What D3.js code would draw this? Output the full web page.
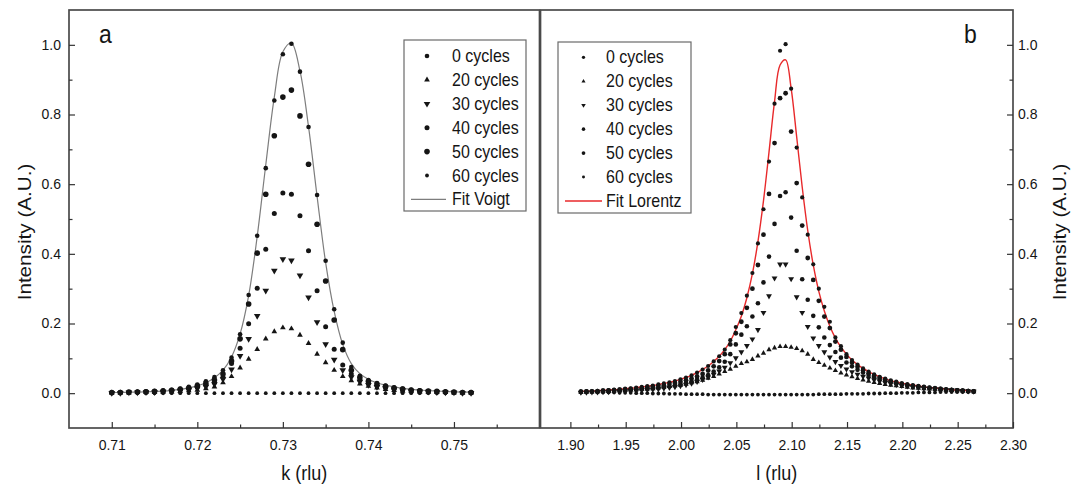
<!DOCTYPE html>
<html>
<head>
<meta charset="utf-8">
<script src="https://cdn.jsdelivr.net/npm/d3@7"></script>
<style>
  html, body { margin: 0; padding: 0; background: #fff; }
  svg { display: block; font-family: 'Liberation Sans', Arial, sans-serif; }
</style>
</head>
<body>
<svg id="chart" width="1077" height="490"></svg>
<script>
// panel a: k scan, 0.710 .. 0.752 rlu in 0.001 steps
const kStart = 0.710
const kStep = 0.001

const kC0 = [
  0.002, 0.003, 0.003, 0.004, 0.005, 0.006, 0.008, 0.010, 0.013, 0.018,
  0.025, 0.034, 0.046, 0.066, 0.102, 0.169, 0.282, 0.452, 0.646, 0.840,
  0.973, 1.003, 0.923, 0.764, 0.569, 0.380, 0.241, 0.145, 0.075, 0.050,
  0.038, 0.029, 0.022, 0.017, 0.013, 0.010, 0.008, 0.006, 0.005, 0.004,
  0.003, 0.002, 0.002
]
const kC20 = [
  0.001, 0.001, 0.001, 0.002, 0.002, 0.003, 0.003, 0.004, 0.005, 0.007,
  0.009, 0.013, 0.018, 0.030, 0.048, 0.073, 0.098, 0.126, 0.156, 0.177,
  0.188, 0.185, 0.167, 0.143, 0.112, 0.088, 0.066, 0.048, 0.036, 0.027,
  0.020, 0.015, 0.011, 0.008, 0.006, 0.005, 0.004, 0.003, 0.002, 0.002,
  0.001, 0.001, 0.001
]
const kC30 = [
  0.001, 0.001, 0.002, 0.002, 0.003, 0.003, 0.004, 0.005, 0.007, 0.010,
  0.014, 0.019, 0.026, 0.040, 0.068, 0.107, 0.156, 0.222, 0.294, 0.352,
  0.385, 0.381, 0.338, 0.275, 0.204, 0.141, 0.096, 0.066, 0.046, 0.033,
  0.024, 0.018, 0.014, 0.011, 0.008, 0.006, 0.005, 0.004, 0.003, 0.002,
  0.002, 0.001, 0.001
]
const kC40 = [
  0.001, 0.002, 0.002, 0.003, 0.003, 0.004, 0.005, 0.007, 0.009, 0.012,
  0.017, 0.023, 0.031, 0.046, 0.085, 0.129, 0.199, 0.301, 0.413, 0.516,
  0.575, 0.571, 0.509, 0.409, 0.294, 0.191, 0.126, 0.081, 0.055, 0.038,
  0.028, 0.021, 0.016, 0.012, 0.009, 0.007, 0.006, 0.005, 0.004, 0.003,
  0.002, 0.002, 0.001
]
const kC50 = [
  0.002, 0.002, 0.003, 0.003, 0.004, 0.005, 0.006, 0.008, 0.011, 0.015,
  0.021, 0.028, 0.038, 0.055, 0.092, 0.156, 0.256, 0.402, 0.571, 0.739,
  0.850, 0.870, 0.796, 0.657, 0.485, 0.322, 0.210, 0.125, 0.066, 0.045,
  0.034, 0.026, 0.020, 0.015, 0.012, 0.009, 0.007, 0.006, 0.005, 0.004,
  0.003, 0.002, 0.002
]
const kC60 = [
  0, 0, 0, 0, 0, 0, 0, 0, 0, 0,
  0, 0, 0, 0, 0, 0, 0, 0, 0, 0,
  0, 0, 0, 0, 0, 0, 0, 0, 0, 0,
  0, 0, 0, 0, 0, 0, 0, 0, 0, 0,
  0, 0, 0
]
const kVoigt = [
  0.002, 0.002, 0.003, 0.003, 0.004, 0.005, 0.006, 0.008, 0.011, 0.015,
  0.021, 0.030, 0.044, 0.066, 0.104, 0.170, 0.280, 0.450, 0.655, 0.850,
  0.980, 1.005, 0.925, 0.765, 0.565, 0.375, 0.235, 0.140, 0.085, 0.056,
  0.040, 0.030, 0.023, 0.018, 0.014, 0.011, 0.009, 0.007, 0.006, 0.005,
  0.004, 0.003, 0.003
]

// panel b: l scan, 1.9095 .. 2.2645 rlu in 0.005 steps
const lStart = 1.9095
const lStep = 0.005

const lC0 = [
  0.005, 0.006, 0.006, 0.007, 0.008, 0.009, 0.010, 0.011, 0.013, 0.014,
  0.016, 0.018, 0.020, 0.022, 0.025, 0.028, 0.031, 0.035, 0.040, 0.045,
  0.051, 0.059, 0.068, 0.078, 0.091, 0.106, 0.125, 0.152, 0.190, 0.230,
  0.280, 0.345, 0.430, 0.528, 0.665, 0.831, 0.983, 1.002, 0.874, 0.705,
  0.562, 0.455, 0.370, 0.300, 0.248, 0.205, 0.160, 0.135, 0.112, 0.095,
  0.082, 0.071, 0.062, 0.054, 0.047, 0.042, 0.037, 0.033, 0.029, 0.026,
  0.023, 0.021, 0.019, 0.017, 0.015, 0.013, 0.012, 0.010, 0.009, 0.008, 0.007, 0.006
]
const lC20 = [
  0.003, 0.003, 0.004, 0.004, 0.005, 0.005, 0.006, 0.007, 0.008, 0.009,
  0.010, 0.011, 0.012, 0.013, 0.015, 0.017, 0.019, 0.021, 0.023, 0.026,
  0.030, 0.033, 0.037, 0.043, 0.048, 0.055, 0.062, 0.069, 0.077, 0.085,
  0.090, 0.097, 0.107, 0.115, 0.125, 0.130, 0.134, 0.134, 0.132, 0.128,
  0.122, 0.112, 0.097, 0.088, 0.080, 0.072, 0.065, 0.058, 0.052, 0.047,
  0.042, 0.038, 0.034, 0.031, 0.028, 0.025, 0.023, 0.021, 0.019, 0.017,
  0.015, 0.014, 0.013, 0.012, 0.011, 0.010, 0.009, 0.008, 0.007, 0.006, 0.005, 0.004
]
const lC30 = [
  0.002, 0.002, 0.003, 0.003, 0.004, 0.004, 0.005, 0.005, 0.006, 0.007,
  0.008, 0.009, 0.010, 0.011, 0.012, 0.014, 0.016, 0.018, 0.021, 0.024,
  0.028, 0.033, 0.039, 0.046, 0.054, 0.063, 0.074, 0.087, 0.101, 0.118,
  0.136, 0.155, 0.182, 0.231, 0.279, 0.330, 0.370, 0.370, 0.328, 0.276,
  0.231, 0.191, 0.158, 0.136, 0.118, 0.103, 0.090, 0.079, 0.069, 0.061,
  0.054, 0.048, 0.043, 0.038, 0.034, 0.030, 0.027, 0.024, 0.022, 0.020,
  0.018, 0.016, 0.014, 0.013, 0.012, 0.011, 0.010, 0.009, 0.008, 0.007, 0.006, 0.005
]
const lC40 = [
  0.003, 0.003, 0.004, 0.004, 0.005, 0.005, 0.006, 0.007, 0.008, 0.009,
  0.010, 0.011, 0.012, 0.014, 0.016, 0.018, 0.020, 0.023, 0.026, 0.030,
  0.034, 0.039, 0.045, 0.052, 0.062, 0.074, 0.090, 0.112, 0.140, 0.168,
  0.192, 0.220, 0.258, 0.318, 0.392, 0.486, 0.566, 0.577, 0.504, 0.409,
  0.327, 0.268, 0.222, 0.189, 0.160, 0.138, 0.118, 0.102, 0.088, 0.077,
  0.067, 0.059, 0.052, 0.046, 0.041, 0.036, 0.032, 0.028, 0.025, 0.022,
  0.020, 0.018, 0.016, 0.014, 0.013, 0.011, 0.010, 0.009, 0.008, 0.007, 0.006, 0.005
]
const lC50 = [
  0.004, 0.005, 0.005, 0.006, 0.007, 0.008, 0.009, 0.010, 0.011, 0.012,
  0.013, 0.015, 0.017, 0.019, 0.021, 0.023, 0.026, 0.029, 0.033, 0.037,
  0.042, 0.048, 0.055, 0.065, 0.077, 0.092, 0.112, 0.140, 0.172, 0.205,
  0.245, 0.300, 0.368, 0.455, 0.572, 0.718, 0.847, 0.861, 0.751, 0.603,
  0.481, 0.388, 0.325, 0.265, 0.220, 0.187, 0.148, 0.125, 0.104, 0.088,
  0.076, 0.066, 0.057, 0.050, 0.044, 0.039, 0.034, 0.030, 0.026, 0.023,
  0.021, 0.019, 0.017, 0.015, 0.013, 0.012, 0.010, 0.009, 0.008, 0.007, 0.006, 0.005
]
const lC60 = [
  0.003, 0.003, 0.003, 0.002, 0.002, 0.002, 0.002, 0.001, 0.001, 0.001,
  0.000, 0.000, 0.000, -0.001, -0.001, -0.001, -0.002, -0.002, -0.002, -0.003,
  -0.003, -0.003, -0.003, -0.004, -0.004, -0.004, -0.004, -0.004, -0.004, -0.004,
  -0.004, -0.004, -0.004, -0.004, -0.004, -0.004, -0.004, -0.004, -0.004, -0.004,
  -0.004, -0.004, -0.004, -0.003, -0.003, -0.003, -0.003, -0.003, -0.002, -0.002,
  -0.002, -0.002, -0.001, -0.001, -0.001, 0.000, 0.000, 0.000, 0.001, 0.001,
  0.001, 0.002, 0.002, 0.002, 0.002, 0.003, 0.003, 0.003, 0.003, 0.003, 0.003, 0.003
]
const lLorentz = [
  0.005, 0.006, 0.006, 0.007, 0.008, 0.009, 0.010, 0.011, 0.013, 0.014,
  0.016, 0.018, 0.020, 0.022, 0.025, 0.028, 0.031, 0.035, 0.040, 0.045,
  0.051, 0.059, 0.068, 0.078, 0.091, 0.106, 0.125, 0.149, 0.182, 0.221,
  0.274, 0.343, 0.435, 0.552, 0.692, 0.837, 0.942, 0.957, 0.875, 0.736,
  0.592, 0.467, 0.368, 0.292, 0.236, 0.192, 0.158, 0.132, 0.112, 0.095,
  0.082, 0.071, 0.062, 0.054, 0.047, 0.041, 0.036, 0.032, 0.029, 0.026,
  0.023, 0.021, 0.018, 0.016, 0.015, 0.013, 0.012, 0.010, 0.009, 0.008, 0.007, 0.006
]

const cycleLabels = ['0 cycles', '20 cycles', '30 cycles', '40 cycles', '50 cycles', '60 cycles']
const yMajor = [0, 0.2, 0.4, 0.6, 0.8, 1.0]
const yMinor = [0.1, 0.3, 0.5, 0.7, 0.9]

const stretch = 1.15
const ink = '#151515'
const plotTop = 10
const plotBottom = 428

const svg = d3.select('#chart')

const yScale = d3.scaleLinear()
  .domain([-0.1, 1.1])
  .range([plotBottom, plotTop])

function label (g, x, y, str, size, anchor = 'start', rotate = false) {
  return g.append('text')
    .attr('transform', rotate
      ? `translate(${x},${y}) rotate(-90) scale(${stretch},1)`
      : `translate(${x},${y}) scale(1,${stretch})`)
    .attr('text-anchor', anchor)
    .attr('font-size', size)
    .attr('fill', ink)
    .text(str)
}

// marker styles, one per legend row: circle radius or triangle area
function markerPath (m, scale = 1) {
  if (m.tri) return d3.symbol(d3.symbolTriangle, m.size * scale)()
  return d3.symbol(d3.symbolCircle, Math.PI * m.r * m.r * scale)()
}

const panels = [
  {
    letter: 'a',
    letterX: 99,
    grid: kC0.map((_, i) => kStart + i * kStep),
    series: [kC0, kC20, kC30, kC40, kC50, kC60],
    markers: [
      { r: 2.3 }, { tri: true, size: 14 }, { tri: true, size: 19, down: true },
      { r: 2.5 }, { r: 2.8 }, { r: 1.9 }
    ],
    fit: kVoigt,
    fitColor: '#7d7d7d',
    fitWidth: 1.2,
    fitLabel: 'Fit Voigt',
    domain: [0.705, 0.760],
    range: [69, 539.5],
    xMajor: [0.71, 0.72, 0.73, 0.74, 0.75],
    xMinor: [0.715, 0.725, 0.735, 0.745, 0.755],
    xTitle: 'k (rlu)',
    ySide: 'left',
    legend: { x0: 404, y0: 40, x1: 526, y1: 211, sym: 427, line: [411, 446], text: 452, row0: 56, step: 23.9, scale: 1 }
  },
  {
    letter: 'b',
    letterX: 964,
    grid: lC0.map((_, i) => lStart + i * lStep),
    series: [lC0, lC20, lC30, lC40, lC50, lC60],
    markers: [
      { r: 2.1 }, { tri: true, size: 12 }, { tri: true, size: 15, down: true },
      { r: 2.3 }, { r: 2.4 }, { r: 1.9 }
    ],
    fit: lLorentz,
    fitColor: '#e8292b',
    fitWidth: 1.4,
    fitLabel: 'Fit Lorentz',
    domain: [1.873, 2.30],
    range: [540.5, 1013],
    xMajor: [1.90, 1.95, 2.00, 2.05, 2.10, 2.15, 2.20, 2.25, 2.30],
    xMinor: [1.925, 1.975, 2.025, 2.075, 2.125, 2.175, 2.225, 2.275],
    xTitle: 'l (rlu)',
    ySide: 'right',
    legend: { x0: 558, y0: 42, x1: 691, y1: 213, sym: 583.5, line: [565, 602], text: 606, row0: 57.3, step: 23.95, scale: 0.6 }
  }
]

function styleAxis (g) {
  g.select('.domain').remove()
  g.selectAll('line').attr('stroke', '#333').attr('stroke-width', 1.2)
  g.selectAll('text')
    .attr('font-family', "'Liberation Sans', Arial, sans-serif")
    .attr('font-size', 14)
    .attr('fill', ink)
}

function drawPanel (p) {
  const g = svg.append('g')
  const x = d3.scaleLinear().domain(p.domain).range(p.range)

  // fit curve under the points
  const line = d3.line()
    .x((d) => x(d[0]))
    .y((d) => yScale(d[1]))
    .curve(d3.curveCatmullRom.alpha(0.5))

  g.append('path')
    .datum(p.grid.map((v, i) => [v, p.fit[i]]))
    .attr('d', line)
    .attr('fill', 'none')
    .attr('stroke', p.fitColor)
    .attr('stroke-width', p.fitWidth)

  // flat series first, highest peak last
  const order = [5, 1, 2, 3, 4, 0]
  order.forEach((si) => {
    const m = p.markers[si]
    g.append('g')
      .selectAll('path')
      .data(p.series[si].map((v, i) => [p.grid[i], v]))
      .join('path')
      .attr('transform', (d) => `translate(${x(d[0])},${yScale(d[1])})${m.down ? ' rotate(180)' : ''}`)
      .attr('d', markerPath(m))
      .attr('fill', ink)
  })

  // frame
  g.append('rect')
    .attr('x', p.range[0])
    .attr('y', plotTop)
    .attr('width', p.range[1] - p.range[0])
    .attr('height', plotBottom - plotTop)
    .attr('fill', 'none')
    .attr('stroke', '#4a4a4a')
    .attr('stroke-width', 1.7)

  // x axis, ticks pointing inward
  g.append('g')
    .attr('transform', `translate(0,${plotBottom})`)
    .call(d3.axisBottom(x).tickValues(p.xMajor).tickSize(-6).tickPadding(12).tickFormat(d3.format('.2f')))
    .call(styleAxis)

  g.append('g')
    .attr('transform', `translate(0,${plotBottom})`)
    .call(d3.axisBottom(x).tickValues(p.xMinor).tickSize(-3.5).tickFormat(''))
    .call(styleAxis)

  // y axis on the outer side
  const left = p.ySide === 'left'
  const yAxis = left ? d3.axisLeft(yScale) : d3.axisRight(yScale)
  const yMinorAxis = left ? d3.axisLeft(yScale) : d3.axisRight(yScale)
  const yPos = left ? p.range[0] : p.range[1]

  g.append('g')
    .attr('transform', `translate(${yPos},0)`)
    .call(yAxis.tickValues(yMajor).tickSize(-6).tickPadding(left ? 8 : 5).tickFormat(d3.format('.1f')))
    .call(styleAxis)

  g.append('g')
    .attr('transform', `translate(${yPos},0)`)
    .call(yMinorAxis.tickValues(yMinor).tickSize(-3.5).tickFormat(''))
    .call(styleAxis)

  // titles
  const midX = (p.range[0] + p.range[1]) / 2
  label(g, midX, 480, p.xTitle, 18, 'middle')
  label(g, left ? 31 : 1066, 232, 'Intensity (A.U.)', 18, 'middle', true)
  label(g, p.letterX, 43, p.letter, 23)

  // legend
  const L = p.legend
  const lg = g.append('g')
  lg.append('rect')
    .attr('x', L.x0)
    .attr('y', L.y0)
    .attr('width', L.x1 - L.x0)
    .attr('height', L.y1 - L.y0)
    .attr('fill', '#fff')
    .attr('stroke', '#6a6a6a')
    .attr('stroke-width', 1.2)

  cycleLabels.forEach((name, i) => {
    const cy = L.row0 + i * L.step
    const m = p.markers[i]
    lg.append('path')
      .attr('transform', `translate(${L.sym},${cy})${m.down ? ' rotate(180)' : ''}`)
      .attr('d', markerPath(m, L.scale))
      .attr('fill', ink)
    label(lg, L.text, cy + 6, name, 16)
  })

  const fy = L.row0 + 6 * L.step
  lg.append('line')
    .attr('x1', L.line[0])
    .attr('x2', L.line[1])
    .attr('y1', fy)
    .attr('y2', fy)
    .attr('stroke', p.fitColor)
    .attr('stroke-width', p.fitWidth)
  label(lg, L.text, fy + 6, p.fitLabel, 16)
}

panels.forEach(drawPanel)
</script>
</body>
</html>
